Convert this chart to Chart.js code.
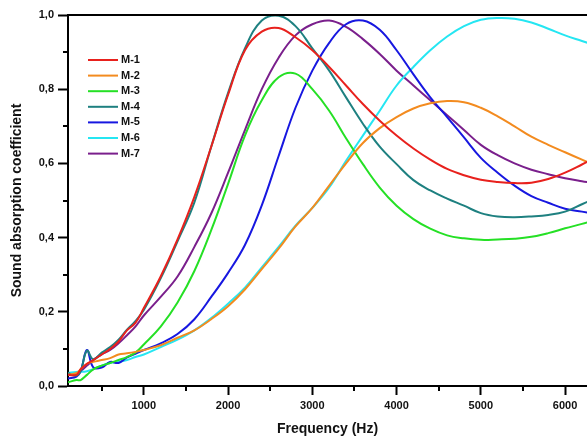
<!DOCTYPE html>
<html>
<head>
<meta charset="utf-8">
<script src="https://cdn.jsdelivr.net/npm/chart.js@4.4.0/dist/chart.umd.min.js"></script>
<style>
  html, body { margin: 0; padding: 0; background: #fff; }
</style>
</head>
<body>
<canvas id="absorptionChart" width="587" height="444"></canvas>
<script>
// Frequencies (Hz) the curves were read at
const freqs = [100, 200, 250, 325, 400, 500, 600, 700, 800, 900, 1000,
    1200, 1400, 1600, 1800, 2000, 2200, 2400, 2600, 2800, 3000, 3200, 3400, 3600,
    3800, 4000, 4200, 4400, 4600, 4800, 5000, 5200, 5400, 5600, 5800, 6000, 6200, 6400];

const m1 = [0.03, 0.03, 0.045, 0.06, 0.07, 0.085, 0.10, 0.12, 0.15, 0.17, 0.21,
    0.295, 0.395, 0.51, 0.645, 0.785, 0.905, 0.955, 0.965, 0.94, 0.905, 0.86, 0.81, 0.76,
    0.715, 0.675, 0.64, 0.61, 0.585, 0.568, 0.556, 0.55, 0.547, 0.548, 0.558, 0.575, 0.597, 0.62];
const m2 = [0.03, 0.035, 0.045, 0.06, 0.065, 0.07, 0.075, 0.085, 0.088, 0.092, 0.097,
    0.11, 0.13, 0.15, 0.18, 0.215, 0.26, 0.315, 0.37, 0.43, 0.48, 0.54, 0.60, 0.655,
    0.695, 0.725, 0.748, 0.762, 0.768, 0.765, 0.75, 0.727, 0.70, 0.672, 0.65, 0.63, 0.61, 0.59];
const m3 = [0.01, 0.016, 0.016, 0.03, 0.045, 0.055, 0.062, 0.07, 0.078, 0.09, 0.112,
    0.16, 0.225, 0.31, 0.42, 0.545, 0.675, 0.77, 0.832, 0.842, 0.80, 0.742, 0.668, 0.598,
    0.535, 0.486, 0.45, 0.424, 0.406, 0.398, 0.394, 0.395, 0.397, 0.402, 0.412, 0.425, 0.437, 0.45];
const m4 = [0.035, 0.028, 0.04, 0.095, 0.072, 0.09, 0.105, 0.125, 0.152, 0.175, 0.205,
    0.29, 0.39, 0.495, 0.645, 0.79, 0.91, 0.985, 0.998, 0.97, 0.91, 0.85, 0.778, 0.707,
    0.645, 0.598, 0.555, 0.527, 0.505, 0.486, 0.466, 0.457, 0.455, 0.457, 0.461, 0.47, 0.49, 0.51];
const m5 = [0.02, 0.025, 0.04, 0.097, 0.05, 0.05, 0.065, 0.062, 0.077, 0.087, 0.097,
    0.115, 0.14, 0.18, 0.24, 0.305, 0.38, 0.487, 0.62, 0.75, 0.85, 0.925, 0.975, 0.985,
    0.96, 0.905, 0.84, 0.778, 0.725, 0.67, 0.615, 0.575, 0.54, 0.512, 0.494, 0.478, 0.47, 0.462];
const m6 = [0.035, 0.038, 0.038, 0.04, 0.045, 0.055, 0.062, 0.065, 0.07, 0.078, 0.085,
    0.105, 0.125, 0.15, 0.183, 0.222, 0.265, 0.32, 0.375, 0.432, 0.48, 0.535, 0.607, 0.675,
    0.742, 0.81, 0.86, 0.905, 0.942, 0.97, 0.987, 0.992, 0.99, 0.98, 0.963, 0.945, 0.93, 0.915];
const m7 = [0.03, 0.03, 0.04, 0.055, 0.07, 0.085, 0.097, 0.115, 0.137, 0.16, 0.19,
    0.24, 0.295, 0.375, 0.465, 0.575, 0.69, 0.80, 0.885, 0.945, 0.975, 0.985, 0.968, 0.935,
    0.895, 0.85, 0.81, 0.77, 0.73, 0.69, 0.65, 0.622, 0.60, 0.583, 0.571, 0.56, 0.552, 0.545];

const seriesNames = ['M-1', 'M-2', 'M-3', 'M-4', 'M-5', 'M-6', 'M-7'];
const seriesColors = ['#e8211d', '#f38b1f', '#25e025', '#1e8080', '#1717e0', '#25e6f2', '#7a1f8c'];

const xTicks = [1000, 2000, 3000, 4000, 5000, 6000];
const xMinorTicks = [500, 1500, 2500, 3500, 4500, 5500];
const yMinorTicks = [0.1, 0.3, 0.5, 0.7, 0.9];

const FONT = "'Liberation Sans', Arial, sans-serif";

const datasets = [m1, m2, m3, m4, m5, m6, m7].map((vals, i) => ({
    label: seriesNames[i],
    data: vals.map((v, j) => ({ x: freqs[j], y: v })),
    borderColor: seriesColors[i],
    backgroundColor: seriesColors[i],
    borderWidth: 2,
    pointRadius: 0,
    tension: 0.4,
    fill: false
}));

// Minor ticks, top frame line and the in-plot legend
const extras = {
    id: 'extras',
    afterDraw(chart) {
        const ctx = chart.ctx;
        const xs = chart.scales.x, ys = chart.scales.y;
        const area = chart.chartArea;
        ctx.save();
        ctx.strokeStyle = '#000';
        ctx.lineWidth = 2;
        ctx.beginPath();
        ctx.moveTo(area.left, area.top);
        ctx.lineTo(area.right, area.top);
        yMinorTicks.forEach(v => {
            const y = Math.round(ys.getPixelForValue(v));
            ctx.moveTo(area.left - 5, y);
            ctx.lineTo(area.left, y);
        });
        xMinorTicks.forEach(v => {
            const x = Math.round(xs.getPixelForValue(v));
            if (x < area.left || x > area.right) return;
            ctx.moveTo(x, area.bottom);
            ctx.lineTo(x, area.bottom + 5);
        });
        ctx.stroke();

        // legend
        ctx.font = 'bold 11px ' + FONT;
        ctx.textBaseline = 'middle';
        chart.data.datasets.forEach((ds, i) => {
            const y = 60 + i * 15.6;
            ctx.strokeStyle = ds.borderColor;
            ctx.lineWidth = 2;
            ctx.beginPath();
            ctx.moveTo(88, y);
            ctx.lineTo(118, y);
            ctx.stroke();
            ctx.fillStyle = '#111';
            ctx.fillText(ds.label, 121, y);
        });
        ctx.restore();
    }
};

new Chart(document.getElementById('absorptionChart'), {
    type: 'line',
    data: { datasets: datasets },
    plugins: [extras],
    options: {
        responsive: false,
        animation: false,
        devicePixelRatio: 1,
        layout: { padding: { top: 15, left: 0, right: 0, bottom: 0 } },
        plugins: {
            legend: { display: false },
            tooltip: { enabled: false }
        },
        scales: {
            x: {
                type: 'linear',
                min: 100,
                max: 6260,
                afterBuildTicks: scale => { scale.ticks = xTicks.map(v => ({ value: v })); },
                afterFit: scale => { scale.height = 58; },
                grid: { drawOnChartArea: false, tickLength: 9, tickWidth: 2, tickColor: '#000' },
                border: { display: true, color: '#000', width: 2 },
                ticks: {
                    color: '#111',
                    padding: 4,
                    maxRotation: 0,
                    font: { family: FONT, size: 11, weight: 'bold' },
                    callback: v => String(v)
                },
                title: {
                    display: true,
                    text: 'Frequency (Hz)',
                    color: '#111',
                    padding: { top: 0, bottom: 6 },
                    font: { family: FONT, size: 14, weight: 'bold' }
                }
            },
            y: {
                min: 0,
                max: 1,
                afterFit: scale => { scale.width = 68; },
                grid: { drawOnChartArea: false, tickLength: 10, tickWidth: 2, tickColor: '#000' },
                border: { display: true, color: '#000', width: 2 },
                ticks: {
                    stepSize: 0.2,
                    color: '#111',
                    padding: 4,
                    font: { family: FONT, size: 11, weight: 'bold' },
                    callback: v => v.toFixed(1).replace('.', ',')
                },
                title: {
                    display: true,
                    text: 'Sound absorption coefficient',
                    color: '#111',
                    padding: { top: 9, bottom: 0 },
                    font: { family: FONT, size: 14, weight: 'bold' }
                }
            }
        }
    }
});
</script>
</body>
</html>
